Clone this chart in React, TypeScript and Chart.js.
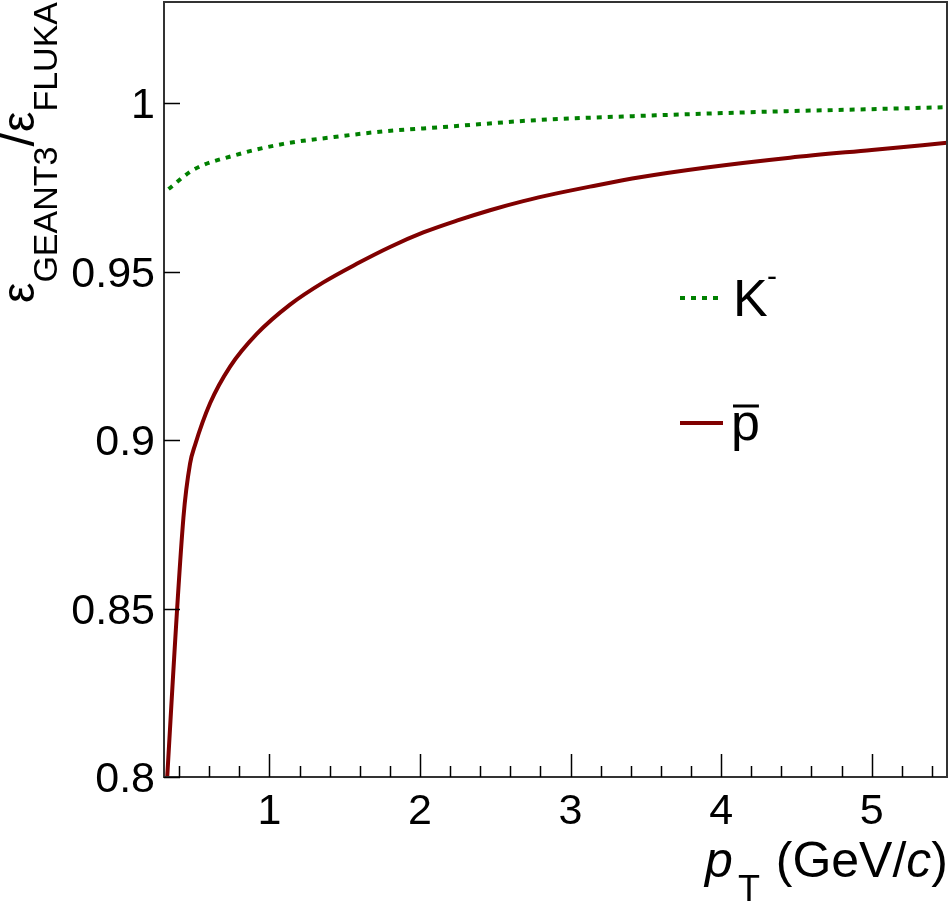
import React, { useEffect, useRef } from "react";
import { Chart, registerables } from "chart.js";

Chart.register(...registerables);

// ---- data ----
const pbarPt = [0.3, 0.429, 0.473, 0.506, 0.606, 0.739, 0.916, 1.137, 1.358, 1.58, 1.801, 2.022, 2.244, 2.465, 2.686, 2.908, 3.129, 3.461, 3.904, 4.457, 5.0, 5.5];
const pbarRatio = [0.784, 0.877, 0.893, 0.8985, 0.9109, 0.9218, 0.9315, 0.9402, 0.9468, 0.9523, 0.9573, 0.9616, 0.9651, 0.9682, 0.9709, 0.9732, 0.9752, 0.978, 0.9809, 0.9838, 0.9861, 0.9882];

const kaonPt = [0.33, 0.495, 0.761, 1.093, 1.425, 1.757, 2.155, 2.797, 3.461, 4.126, 4.436, 5.0, 5.5];
const kaonRatio = [0.9745, 0.9802, 0.9844, 0.9879, 0.9899, 0.9916, 0.9929, 0.995, 0.9962, 0.9972, 0.9976, 0.9982, 0.9988];

const xTickValues = [1, 2, 3, 4, 5];
const xTickLabels = ["1", "2", "3", "4", "5"];
const yTickValues = [0.8, 0.85, 0.9, 0.95, 1];
const yTickLabels = ["0.8", "0.85", "0.9", "0.95", "1"];
const xMinorTicks = [0.4, 0.6, 0.8, 1.2, 1.4, 1.6, 1.8, 2.2, 2.4, 2.6, 2.8, 3.2, 3.4, 3.6, 3.8, 4.2, 4.4, 4.6, 4.8, 5.2, 5.4];

const X_MIN = 0.3;
const X_MAX = 5.5;
const Y_MIN = 0.8;
const Y_MAX = 1.03;

const FONT = '"Liberation Sans", Arial, Helvetica, sans-serif';
const RED = "#800000";
const GREEN = "#008000";

type Piece = { t: string; size: number; italic?: boolean; dy?: number; dx?: number };

function drawPieces(ctx: CanvasRenderingContext2D, pieces: Piece[], x: number, y: number) {
  let cx = x;
  for (const p of pieces) {
    ctx.font = `${p.italic ? "italic " : ""}${p.size}px ${FONT}`;
    cx += p.dx || 0;
    ctx.fillText(p.t, cx, y + (p.dy || 0));
    cx += ctx.measureText(p.t).width;
  }
  return cx;
}
function piecesWidth(ctx: CanvasRenderingContext2D, pieces: Piece[]) {
  let w = 0;
  for (const p of pieces) {
    ctx.font = `${p.italic ? "italic " : ""}${p.size}px ${FONT}`;
    w += ctx.measureText(p.t).width + (p.dx || 0);
  }
  return w;
}

const decorPlugin = {
  id: "rootDecor",
  afterDraw(chart: any) {
    const { ctx, chartArea: ca, scales } = chart;
    const xs = scales.x;
    const ys = scales.y;
    ctx.save();

    // frame
    ctx.strokeStyle = "#333333";
    ctx.lineWidth = 2;
    ctx.strokeRect(ca.left, ca.top, ca.right - ca.left, ca.bottom - ca.top);

    // x ticks (inside)
    ctx.strokeStyle = "#000";
    ctx.lineWidth = 1.5;
    ctx.beginPath();
    for (const v of xTickValues) {
      const px = Math.round(xs.getPixelForValue(v)) + 0.5;
      ctx.moveTo(px, ca.bottom);
      ctx.lineTo(px, ca.bottom - 23);
    }
    for (const v of xMinorTicks) {
      const px = Math.round(xs.getPixelForValue(v)) + 0.5;
      ctx.moveTo(px, ca.bottom);
      ctx.lineTo(px, ca.bottom - 11);
    }
    // y ticks (inside)
    for (const v of yTickValues) {
      const py = Math.round(ys.getPixelForValue(v)) + 0.5;
      ctx.moveTo(ca.left, py);
      ctx.lineTo(ca.left + 16, py);
    }
    ctx.stroke();

    // tick labels
    ctx.fillStyle = "#000";
    ctx.font = `43px ${FONT}`;
    ctx.textBaseline = "alphabetic";
    ctx.textAlign = "center";
    xTickValues.forEach((v, i) => {
      ctx.fillText(xTickLabels[i], xs.getPixelForValue(v), ca.bottom + 47);
    });
    ctx.textAlign = "right";
    yTickValues.forEach((v, i) => {
      ctx.fillText(yTickLabels[i], ca.left - 9, ys.getPixelForValue(v) + 15);
    });

    // x axis title: p_T (GeV/c)
    ctx.textAlign = "left";
    const xt: Piece[] = [
      { t: "p", size: 50, italic: true },
      { t: "T", size: 36, dy: 24, dx: 5 },
      { t: " (GeV/", size: 50, dx: 2 },
      { t: "c", size: 50, italic: true },
      { t: ")", size: 50 },
    ];
    const xw = piecesWidth(ctx, xt);
    drawPieces(ctx, xt, 948 - xw, 877);

    // y axis title (rotated)
    const yt: Piece[] = [
      { t: "ε", size: 46 },
      { t: "GEANT3", size: 34, dy: 23 },
      { t: "/", size: 52 },
      { t: "ε", size: 46 },
      { t: "FLUKA", size: 34, dy: 23 },
    ];
    const yw = piecesWidth(ctx, yt);
    ctx.save();
    ctx.translate(34, 2 + yw);
    ctx.rotate(-Math.PI / 2);
    drawPieces(ctx, yt, 0, 0);
    ctx.restore();

    // legend
    const ds = chart.data.datasets;
    // K-
    ctx.strokeStyle = ds[1].borderColor;
    ctx.lineWidth = 4;
    ctx.setLineDash(ds[1].borderDash);
    ctx.beginPath();
    ctx.moveTo(680, 298);
    ctx.lineTo(723, 298);
    ctx.stroke();
    ctx.setLineDash([]);
    ctx.font = `52px ${FONT}`;
    ctx.fillText("K", 733, 316);
    ctx.font = `30px ${FONT}`;
    ctx.fillText("-", 767, 286);
    // pbar
    ctx.strokeStyle = ds[0].borderColor;
    ctx.lineWidth = 4;
    ctx.beginPath();
    ctx.moveTo(680, 423);
    ctx.lineTo(723, 423);
    ctx.stroke();
    ctx.font = `52px ${FONT}`;
    ctx.fillText("p", 731, 440);
    const pw = ctx.measureText("p").width;
    ctx.strokeStyle = "#000";
    ctx.lineWidth = 3;
    ctx.beginPath();
    ctx.moveTo(733, 406);
    ctx.lineTo(731 + pw - 1, 406);
    ctx.stroke();

    ctx.restore();
  },
};

export default function App() {
  const ref = useRef<HTMLCanvasElement | null>(null);
  useEffect(() => {
    document.body.style.margin = "0";
    if (!ref.current) return;
    const chart = new Chart(ref.current, {
      type: "line",
      data: {
        datasets: [
          {
            label: "pbar",
            data: pbarPt.map((x, i) => ({ x, y: pbarRatio[i] })),
            borderColor: RED,
            borderWidth: 4,
            pointRadius: 0,
            cubicInterpolationMode: "monotone",
            fill: false,
          },
          {
            label: "K-",
            data: kaonPt.map((x, i) => ({ x, y: kaonRatio[i] })),
            borderColor: GREEN,
            borderWidth: 4,
            borderDash: [5, 6],
            pointRadius: 0,
            cubicInterpolationMode: "monotone",
            fill: false,
          },
        ],
      },
      options: {
        animation: false,
        responsive: false,
        devicePixelRatio: 1,
        layout: { padding: { left: 164, right: 3, top: 2, bottom: 127 } },
        plugins: { legend: { display: false }, tooltip: { enabled: false } },
        events: [],
        scales: {
          x: { type: "linear", min: X_MIN, max: X_MAX, display: false },
          y: { type: "linear", min: Y_MIN, max: Y_MAX, display: false },
        },
      },
      plugins: [decorPlugin],
    } as any);
    return () => chart.destroy();
  }, []);
  return <canvas ref={ref} width={950} height={904} style={{ display: "block" }} />;
}
